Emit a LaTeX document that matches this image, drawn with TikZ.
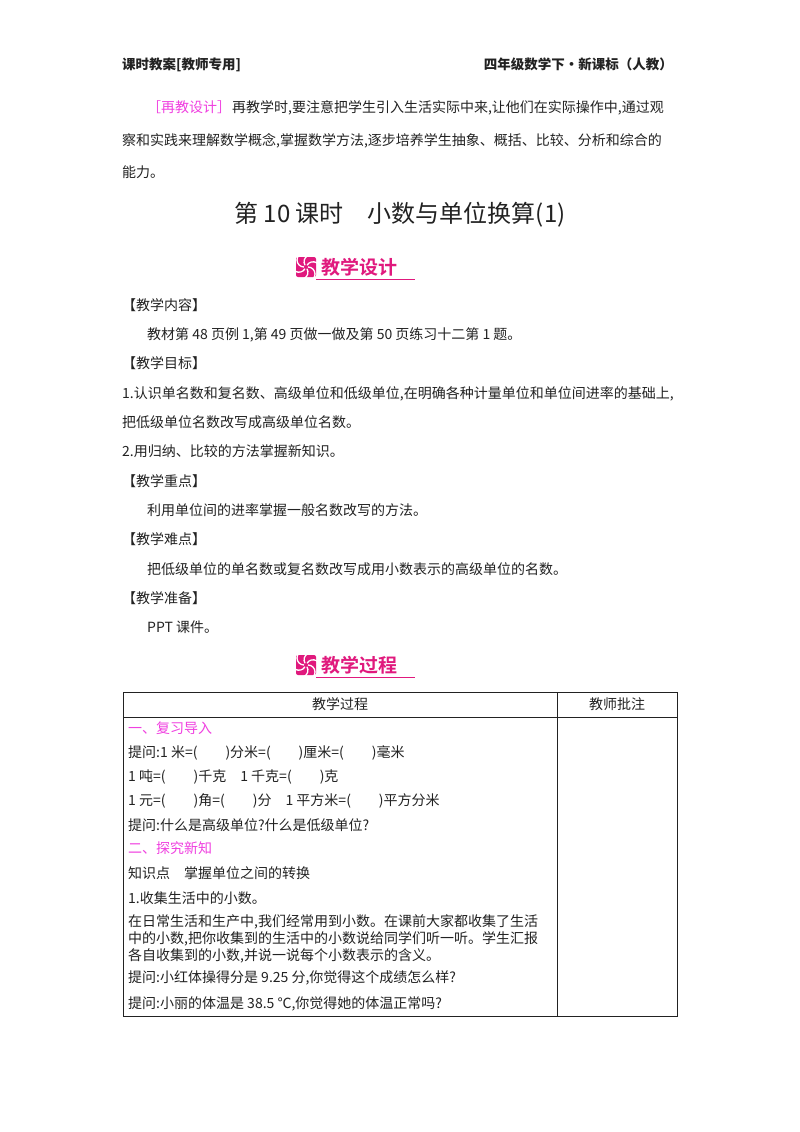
\documentclass[tikz,border=0pt]{standalone}
\usepackage{fontspec}
\setmainfont{Noto Sans CJK SC}
\newfontfamily\cjkb{Noto Sans CJK SC Bold}
\definecolor{pk}{HTML}{E0197D}
\definecolor{mg}{HTML}{F040E0}
\definecolor{tx}{HTML}{222222}
\begin{document}
\begin{tikzpicture}[x=1pt,y=-1pt,
  t/.style={anchor=base west,inner sep=0pt,font=\fontsize{14}{14}\selectfont,text=tx},
  tb/.style={t,font=\fontsize{14}{14}\selectfont},
  ban/.style={anchor=base west,inner sep=0pt,font=\cjkb\fontsize{19}{19}\selectfont,text=pk}]
\useasboundingbox[fill=white] (0,0) rectangle (800,1132);
\node[t,font=\bfseries\fontsize{13.5}{13.5}\selectfont] (h1) at (122,70) {课时教案[教师专用]};
\node[t,anchor=base east,font=\bfseries\fontsize{13.5}{13.5}\selectfont] (h2) at (673,70) {四年级数学下·新课标（人教）};
\node[t,text=mg] (z0) at (147,112) {［再教设计］};
\node[t] (z1) at (232,112) {再教学时,要注意把学生引入生活实际中来,让他们在实际操作中,通过观};
\node[t] (z2) at (122,145) {察和实践来理解数学概念,掌握数学方法,逐步培养学生抽象、概括、比较、分析和综合的};
\node[t] (z3) at (122,177) {能力。};
\node[t,anchor=base,font=\fontsize{24}{24}\selectfont] (title) at (400,222) {第 10 课时\quad 小数与单位换算(1)};
\foreach \by/\txt/\nm in {267/教学设计/b1,665/教学过程/b2}{
  \fill[pk,rounded corners=2pt] (296,\by-10) rectangle (316,\by+10);
  \foreach \a in {0,60,...,300}{\draw[white,line width=1.3pt] (306,\by) ++(\a:2) arc[start angle=\a-90,end angle=\a+40,radius=7];}
  \node[ban] (\nm) at (321,\by+7) {\txt};
  \draw[pk,line width=0.8pt] (316,\by+12) -- (415,\by+12);
}
\node[t] (a1) at (122,310) {【教学内容】};
\node[t] (a2) at (147,339) {教材第 48 页例 1,第 49 页做一做及第 50 页练习十二第 1 题。};
\node[t] (a3) at (122,368) {【教学目标】};
\node[t] (a4) at (122,398) {1.认识单名数和复名数、高级单位和低级单位,在明确各种计量单位和单位间进率的基础上,};
\node[t] (a5) at (122,427) {把低级单位名数改写成高级单位名数。};
\node[t] (a6) at (122,456) {2.用归纳、比较的方法掌握新知识。};
\node[t] (a7) at (122,486) {【教学重点】};
\node[t] (a8) at (147,515) {利用单位间的进率掌握一般名数改写的方法。};
\node[t] (a9) at (122,544) {【教学难点】};
\node[t] (a10) at (147,574) {把低级单位的单名数或复名数改写成用小数表示的高级单位的名数。};
\node[t] (a11) at (122,603) {【教学准备】};
\node[t] (a12) at (147,632) {PPT 课件。};
% table
\draw[tx,line width=1pt] (123,692) rectangle (677,1016);
\draw[tx,line width=0.8pt] (123,717) -- (677,717);
\draw[tx,line width=0.8pt] (557,692) -- (557,1016);
\node[tb,anchor=base] (c1) at (340,709) {教学过程};
\node[tb,anchor=base] (c2) at (617,709) {教师批注};
\node[tb,text=mg] (r1) at (128,733) {一、复习导入};
\node[tb] (r2) at (128,757) {提问:1 米=(\hspace{2em})分米=(\hspace{2em})厘米=(\hspace{2em})毫米};
\node[tb] (r3) at (128,781) {1 吨=(\hspace{2em})千克\quad 1 千克=(\hspace{2em})克};
\node[tb] (r4) at (128,805) {1 元=(\hspace{2em})角=(\hspace{2em})分\quad 1 平方米=(\hspace{2em})平方分米};
\node[tb] (r5) at (128,830) {提问:什么是高级单位?什么是低级单位?};
\node[tb,text=mg] (r6) at (128,853) {二、探究新知};
\node[tb] (r7) at (128,878) {知识点\quad 掌握单位之间的转换};
\node[tb] (r8) at (128,903) {1.收集生活中的小数。};
\node[tb] (r9) at (128,926) {在日常生活和生产中,我们经常用到小数。在课前大家都收集了生活};
\node[tb] (r10) at (128,943) {中的小数,把你收集到的生活中的小数说给同学们听一听。学生汇报};
\node[tb] (r11) at (128,960) {各自收集到的小数,并说一说每个小数表示的含义。};
\node[tb] (r12) at (128,982) {提问:小红体操得分是 9.25 分,你觉得这个成绩怎么样?};
\node[tb] (r13) at (128,1008) {提问:小丽的体温是 38.5 ℃,你觉得她的体温正常吗?};
\end{tikzpicture}
\end{document}
